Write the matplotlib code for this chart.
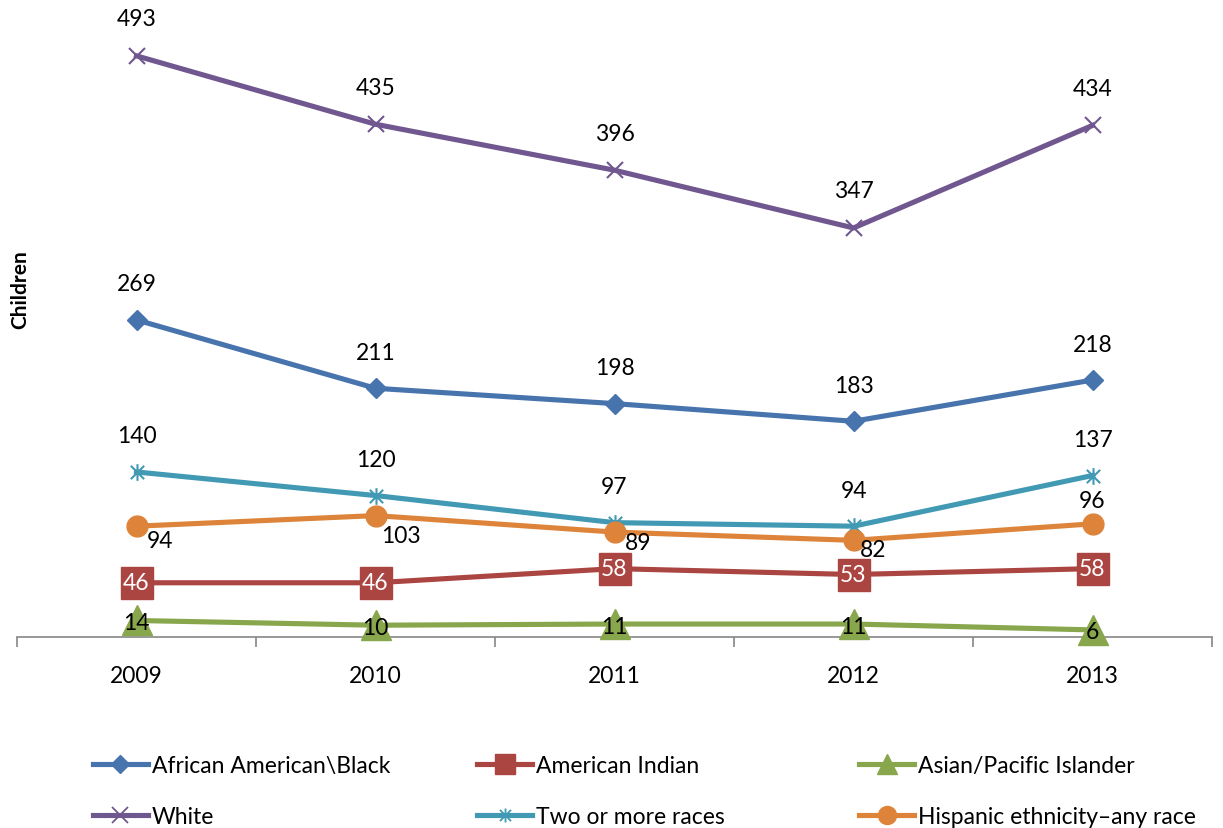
import matplotlib
matplotlib.use("Agg")
import matplotlib.pyplot as plt
from matplotlib.path import Path
from matplotlib.lines import Line2D

plt.rcParams['font.family'] = ['Lato', 'DejaVu Sans']

years = ['2009', '2010', '2011', '2012', '2013']
african = [269, 211, 198, 183, 218]
american_indian = [46, 46, 58, 53, 58]
asian = [14, 10, 11, 11, 6]
white = [493, 435, 396, 347, 434]
two_more = [140, 120, 97, 94, 137]
hispanic = [94, 103, 89, 82, 96]

names = ['African American\\Black', 'American Indian', 'Asian/Pacific Islander',
         'White', 'Two or more races', 'Hispanic ethnicity\u2013any race']

W, H = 1223, 829
fig = plt.figure(figsize=(W / 100, H / 100), dpi=100)
ax = fig.add_axes([17 / W, (H - 638) / H, (1212 - 17) / W, (638 - 5) / H])

star = Path([(-1, -1), (1, 1), (-1, 1), (1, -1), (0, -1.25), (0, 1.25)],
            [Path.MOVETO, Path.LINETO, Path.MOVETO, Path.LINETO, Path.MOVETO, Path.LINETO])

c_blue = '#4874AE'
c_red = '#AA4542'
c_green = '#88A64B'
c_purple = '#70578F'
c_teal = '#4199B3'
c_orange = '#DD843A'

x = list(range(len(years)))
lw = 3.7
fs = 16.5

series = [
    (african, c_blue, dict(marker='D', ms=10)),
    (american_indian, c_red, dict(marker='s', ms=23)),
    (asian, c_green, dict(marker='^', ms=22)),
    (white, c_purple, dict(marker='x', ms=12, mew=1.5)),
    (two_more, c_teal, dict(marker=star, ms=12, mew=1.5, mfc='none')),
    (hispanic, c_orange, dict(marker='o', ms=15)),
]

for vals, col, mk in series:
    ax.plot(x, vals, color=col, lw=lw, mec=col, clip_on=False, zorder=3, **mk)

def lab(vals, offsets, color='black', zorder=5):
    for i, v in enumerate(vals):
        dx, dy = offsets[i]
        ax.annotate(str(v), (i, v), xytext=(dx, dy), textcoords='offset pixels',
                    ha='center', va='center', fontsize=fs, color=color, zorder=zorder,
                    annotation_clip=False)

lab(white, [(0, 37)] * 5)
lab(african, [(0, 36)] * 5)
lab(two_more, [(0, 36)] * 5)
lab(hispanic, [(24, -14), (25, -20), (24, -10), (20, -9), (0, 23)])
lab(american_indian, [(0, 0)] * 5, color='white')
lab(asian, [(0, -2)] * 5)

ax.set_xlim(-0.5, 4.5)
ax.set_ylim(0, 537)
for s in ['top', 'right', 'left']:
    ax.spines[s].set_visible(False)
ax.spines['bottom'].set_color('#868686')
ax.spines['bottom'].set_linewidth(1.2)
ax.set_yticks([])
ax.set_xticks(x)
ax.set_xticklabels(years, fontsize=fs)
ax.tick_params(axis='x', which='major', length=0, pad=20)
ax.set_xticks([i - 0.5 for i in range(len(years) + 1)], minor=True)
ax.tick_params(axis='x', which='minor', length=7, width=1.2, color='#868686', direction='out')

fig.text(20 / W, 1 - 290 / H, 'Children', rotation=90, fontsize=15, fontweight='bold',
         ha='center', va='center')

def proxy(col, **mk):
    return Line2D([], [], color=col, lw=lw, mec=col, **mk)

handles = [
    proxy(c_blue, marker='D', ms=9),
    proxy(c_red, marker='s', ms=15),
    proxy(c_green, marker='^', ms=14),
    proxy(c_purple, marker='x', ms=11, mew=1.3),
    proxy(c_teal, marker=star, ms=10, mew=1.3, mfc='none'),
    proxy(c_orange, marker='o', ms=13),
]

col_x = [93, 477, 859]
for c in range(3):
    hs = [handles[c], handles[c + 3]]
    ls = [names[c], names[c + 3]]
    fig.legend(hs, ls, loc='upper left', bbox_to_anchor=(col_x[c] / W, 1 - 756 / H),
               frameon=False, fontsize=fs, handlelength=2.4, handletextpad=0.17,
               borderpad=0, borderaxespad=0, labelspacing=1.3)

fig.savefig('out.png', dpi=100)
